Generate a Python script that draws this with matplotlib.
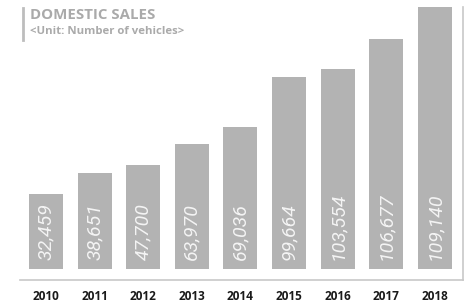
import matplotlib
matplotlib.use("Agg")
import matplotlib.pyplot as plt

years = ["2010", "2011", "2012", "2013", "2014", "2015", "2016", "2017", "2018"]
sales = [32459, 38651, 47700, 63970, 69036, 99664, 103554, 106677, 109140]
# drawn bar heights (chart is not to scale)
bar_heights = [75, 96, 104, 125, 142, 192, 200, 230, 262]
labels = [f"{v:,}" for v in sales]

W, H = 473, 302
fig = plt.figure(figsize=(W / 100, H / 100), dpi=100)
ax = fig.add_axes([0, 0, 1, 1])
x0, dx = 46, 48.6
ax.set_xlim(-x0 / dx, (W - x0) / dx)
ax.set_ylim(-(H - 269), 269)
ax.axis("off")

xs = list(range(len(years)))
ax.bar(xs, bar_heights, width=0.7, color="#b3b3b3", zorder=2)
for x, lab in zip(xs, labels):
    ax.text(x, 9, lab, rotation=90, ha="center", va="bottom", color="#f4f4f4",
            fontsize=14, family="Roboto", fontweight="normal", style="italic",
            zorder=3)
for x, y in zip(xs, years):
    ax.text(x, -28, y, ha="center", va="center", color="#1a1a1a",
            fontsize=8.5, family="Open Sans", fontweight="bold")

# frame lines (bottom and right)
fig.add_artist(plt.Line2D([20 / W, 463 / W], [1 - 280 / H, 1 - 280 / H],
                          color="#c8c8c8", lw=1.2))
fig.add_artist(plt.Line2D([463 / W, 463 / W], [1 - 280 / H, 1 - 7 / H],
                          color="#c8c8c8", lw=1.2))
# title marker
fig.add_artist(plt.Line2D([22.5 / W, 22.5 / W], [1 - 40 / H, 1 - 8 / H],
                          color="#bdbdbd", lw=2))
fig.text(30 / W, 1 - 15 / H, "DOMESTIC SALES", ha="left", va="center",
         color="#aaaaaa", fontsize=10.8, family="Open Sans", fontweight="bold")
fig.text(30 / W, 1 - 31 / H, "<Unit: Number of vehicles>", ha="left", va="center",
         color="#aaaaaa", fontsize=8.2, family="Open Sans", fontweight="bold")

fig.savefig("out.png", dpi=100)
